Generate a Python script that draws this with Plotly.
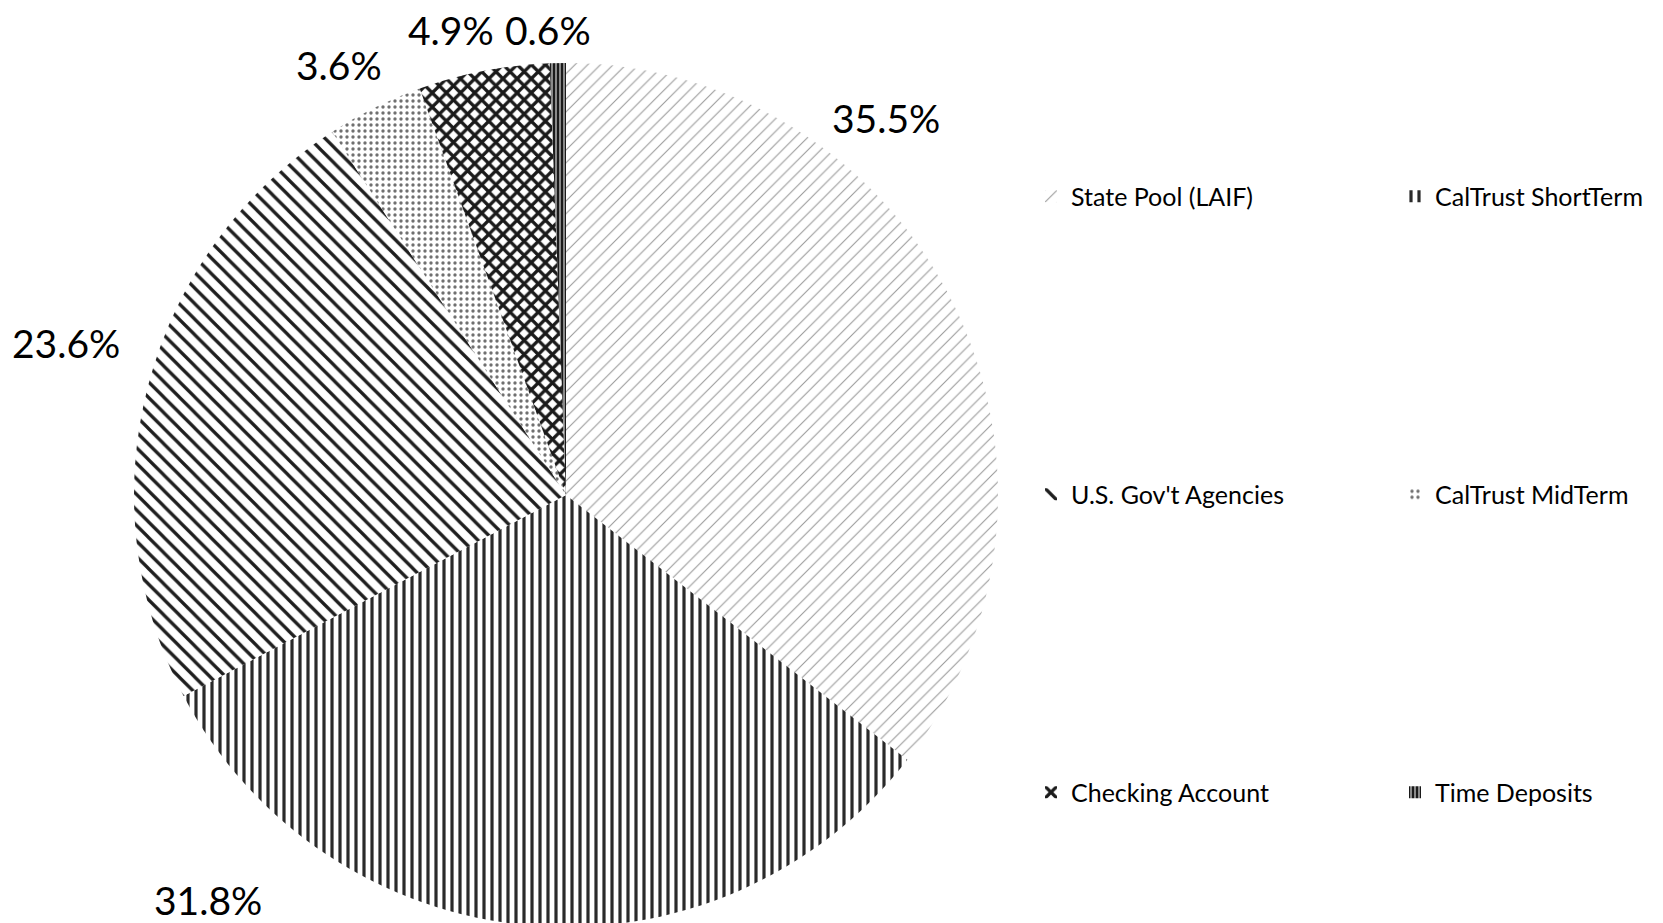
import math
import plotly.graph_objects as go

# ---------------- data ----------------
labels = ["State Pool (LAIF)", "CalTrust ShortTerm", "U.S. Gov't Agencies",
          "CalTrust MidTerm", "Checking Account", "Time Deposits"]
shares = [35.5, 31.8, 23.6, 3.6, 4.9, 0.6]

# ---------------- style ----------------
pattern_shape = ["/", "|", "\\", ".", "x", "|"]
pattern_fg = ["#9a9a9a", "#2a2a2a", "#1e1e1e", "#707070", "#1a1a1a", "#1a1a1a"]
pattern_bg = ["white", "white", "white", "white", "white", "#8a8a8a"]
pattern_size = [9, 8, 11, 6, 10, 4]
pattern_solid = [0.12, 0.4, 0.3, 0.25, 0.55, 0.5]

W, H = 1663, 923
CX, CY, R = 558, 487, 432          # pie centre / radius in pixels (from top-left)
FONT = "Lato"

# label placement (angle nudge in degrees, distance as fraction of radius)
label_shift = [-21.9, 35.5, 1.5, -1.2, -2.3, 0.0]
label_dist = [1.146, 1.249, 1.187, 1.104, 1.099, 1.069]
label_offset_px = [(-11, -9), (-7, -5), (-8, -8), (-7, -7), (-6, -3), (-9, -3)]

legend_x_px = 1023
legend_rows_y_px = [188.5, 486.5, 784.5]
legend_entry_w = 319


def mk_marker(idx):
    return dict(
        colors=[pattern_bg[i] for i in idx],
        line=dict(width=0),
        pattern=dict(
            shape=[pattern_shape[i] for i in idx],
            fgcolor=[pattern_fg[i] for i in idx],
            bgcolor=[pattern_bg[i] for i in idx],
            size=[pattern_size[i] for i in idx],
            solidity=[pattern_solid[i] for i in idx],
            fillmode="replace",
        ),
    )


all_idx = list(range(len(labels)))
fig = go.Figure()
fig.add_trace(go.Pie(
    labels=labels, values=shares, sort=False, direction="clockwise", rotation=0,
    domain=dict(x=[(CX - R) / W, (CX + R) / W], y=[1 - (CY + R) / H, 1 - (CY - R) / H]),
    marker=mk_marker(all_idx), textinfo="none", hoverinfo="label+percent",
    showlegend=False,
))

# legend rows (two entries each), one legend per row
legend_names = ["legend", "legend2", "legend3"]
for r, lname in enumerate(legend_names):
    idx = [2 * r, 2 * r + 1]
    fig.add_trace(go.Pie(
        labels=[labels[i] for i in idx], values=[shares[i] for i in idx],
        sort=False, domain=dict(x=[0, 0.0003], y=[0, 0.0003]),
        marker=mk_marker(idx), textinfo="none", hoverinfo="skip",
        showlegend=True, legend=lname,
    ))

# percentage labels
total = sum(shares)
annotations = []
cum = 0.0
for i, v in enumerate(shares):
    mid = (cum + v / 2) / total * 360.0
    cum += v
    ang = math.radians(mid + label_shift[i])
    d = R * label_dist[i]
    px = CX + d * math.sin(ang) + label_offset_px[i][0]
    py = CY - d * math.cos(ang) + label_offset_px[i][1]
    annotations.append(dict(
        x=px / W, y=1 - py / H, xref="paper", yref="paper",
        text=f"{v / total * 100:.1f}%", showarrow=False,
        xanchor="center", yanchor="middle",
        font=dict(family=FONT, size=39, color="black"),
    ))

legend_common = dict(
    orientation="h", x=legend_x_px / W, xanchor="left", yanchor="middle",
    entrywidth=legend_entry_w, entrywidthmode="pixels",
    font=dict(family=FONT, size=25, color="black"),
    bgcolor="rgba(0,0,0,0)", traceorder="normal",
)
layout_legends = {}
for lname, ypx in zip(legend_names, legend_rows_y_px):
    layout_legends[lname] = dict(legend_common, y=1 - ypx / H)

fig.update_layout(
    width=W, height=H, margin=dict(l=0, r=0, t=0, b=0, autoexpand=False),
    paper_bgcolor="white", plot_bgcolor="white",
    font=dict(family=FONT, color="black"),
    annotations=annotations,
    **layout_legends,
)

fig.write_html("out.html")
